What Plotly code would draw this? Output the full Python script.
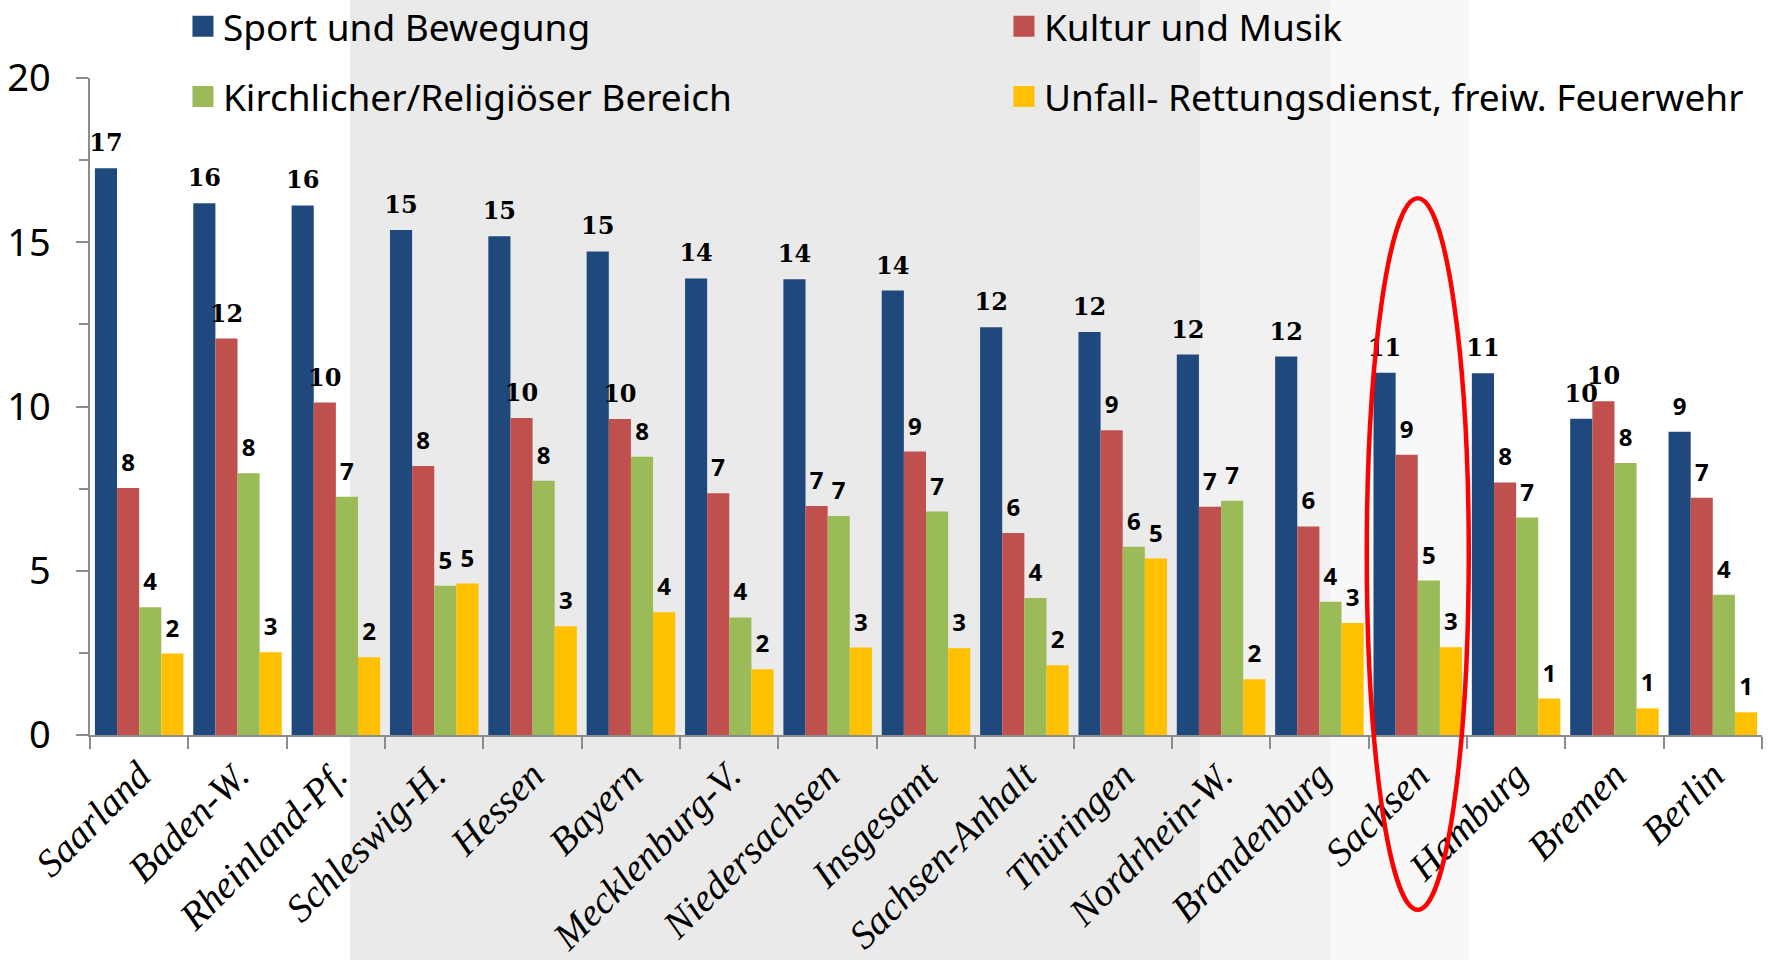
import plotly.graph_objects as go

laender = ["Saarland", "Baden-W.", "Rheinland-Pf.", "Schleswig-H.", "Hessen", "Bayern",
           "Mecklenburg-V.", "Niedersachsen", "Insgesamt", "Sachsen-Anhalt", "Thüringen",
           "Nordrhein-W.", "Brandenburg", "Sachsen", "Hamburg", "Bremen", "Berlin"]

sport = [17.25, 16.19, 16.12, 15.37, 15.18, 14.72, 13.90, 13.87, 13.53, 12.41, 12.27,
         11.58, 11.52, 11.03, 11.01, 9.63, 9.23]
kultur = [7.52, 12.07, 10.12, 8.19, 9.65, 9.62, 7.36, 6.97, 8.63, 6.15, 9.28,
          6.95, 6.35, 8.53, 7.69, 10.16, 7.22]
kirche = [3.89, 7.97, 7.25, 4.54, 7.74, 8.47, 3.58, 6.67, 6.80, 4.17, 5.73,
          7.13, 4.06, 4.70, 6.62, 8.28, 4.27]
unfall = [2.48, 2.52, 2.37, 4.61, 3.31, 3.74, 2.00, 2.66, 2.64, 2.12, 5.37,
          1.70, 3.41, 2.67, 1.11, 0.81, 0.69]

namen = ["Sport und Bewegung", "Kultur und Musik",
         "Kirchlicher/Religiöser Bereich", "Unfall- Rettungsdienst, freiw. Feuerwehr"]
farben = ["#1F497D", "#C0504D", "#9BBB59", "#FFC000"]
markiert = "Sachsen"

achse = "#8c8c8c"

fig = go.Figure()

for werte, name, farbe in zip([sport, kultur, kirche, unfall], namen, farben):
    fig.add_trace(go.Bar(
        x=laender, y=werte, name=name, marker_color=farbe, marker_line_width=0,
        showlegend=False, hoverinfo="x+y+name",
    ))

# Beschriftungen als gruppierte Text-Punkte (etwas Abstand ueber den Balken)
for werte, name in zip([sport, kultur, kirche, unfall], namen):
    fam = ["DejaVu Serif" if round(v) >= 10 else "Noto Sans" for v in werte]
    fig.add_trace(go.Scatter(
        x=laender, y=werte, mode="markers+text", texttemplate="%{y:.0f}",
        textposition="top center", cliponaxis=False,
        marker=dict(size=16, opacity=0),
        textfont=dict(family=fam, size=24, color="black", weight="bold"),
        showlegend=False, hoverinfo="skip",
    ))

# Legende mit groesseren Quadraten (eigene, unsichtbare Achsen)
for i, (name, farbe) in enumerate(zip(namen, farben)):
    fig.add_trace(go.Scatter(
        x=[None], y=[None], mode="markers", name=name, xaxis="x2", yaxis="y2",
        marker=dict(symbol="square", size=16, color=farbe, line=dict(width=5, color=farbe)),
        legend="legend" if i < 2 else "legend2",
    ))

legfont = dict(family="Noto Sans", size=37, color="black")

# Hintergrund (helles Foto im Original)
fig.add_shape(type="rect", xref="paper", yref="paper", x0=0.1555, x1=0.664, y0=-0.35, y1=1.13,
              fillcolor="#eaeaea", line_width=0, layer="below")
fig.add_shape(type="rect", xref="paper", yref="paper", x0=0.664, x1=0.742, y0=-0.35, y1=1.13,
              fillcolor="#f1f1f1", line_width=0, layer="below")
fig.add_shape(type="rect", xref="paper", yref="paper", x0=0.742, x1=0.825, y0=-0.35, y1=1.13,
              fillcolor="#f8f8f8", line_width=0, layer="below")

idx = laender.index(markiert)
xc = (idx + 0.5) / len(laender)
fig.add_shape(type="circle", xref="x domain", yref="y domain",
              x0=xc - 0.0305, x1=xc + 0.0305, y0=-0.266, y1=0.817,
              line=dict(color="#ff0000", width=4.5), layer="above")

fig.update_layout(
    width=1771, height=960,
    margin=dict(l=90, r=9, t=78, b=225, autoexpand=False),
    barmode="group", bargap=0.1,
    scattermode="group", scattergap=0.1,
    paper_bgcolor="white", plot_bgcolor="rgba(0,0,0,0)",
    legend=dict(orientation="h", x=0.0556, xanchor="left", y=1.078, yanchor="middle",
                entrywidth=776, font=legfont, bgcolor="rgba(0,0,0,0)"),
    legend2=dict(orientation="h", x=0.0556, xanchor="left", y=0.971, yanchor="middle",
                 entrywidth=776, font=legfont, bgcolor="rgba(0,0,0,0)"),
    xaxis=dict(type="category", tickangle=-45, range=[-0.5, len(laender) - 0.5],
               tickfont=dict(family="Liberation Serif", size=39, style="italic", color="black"),
               ticks="outside", tickson="boundaries", ticklen=12, tickcolor=achse, tickwidth=1.5,
               showline=True, linecolor=achse, linewidth=1.5, showgrid=False),
    yaxis=dict(range=[0, 20], dtick=5, tick0=0, ticks="outside", ticklen=12, tickcolor=achse,
               tickwidth=1.5, showline=True, linecolor=achse, linewidth=1.5, showgrid=False,
               zeroline=False, ticklabelstandoff=18,
               tickfont=dict(family="Noto Sans", size=38, color="black"),
               minor=dict(dtick=2.5, ticks="outside", ticklen=9, tickcolor=achse, showgrid=False)),
    xaxis2=dict(overlaying="x", visible=False),
    yaxis2=dict(overlaying="y", visible=False),
)

fig.write_html("out.html", post_script="document.body.style.margin='0';",
               config={"displayModeBar": False})
